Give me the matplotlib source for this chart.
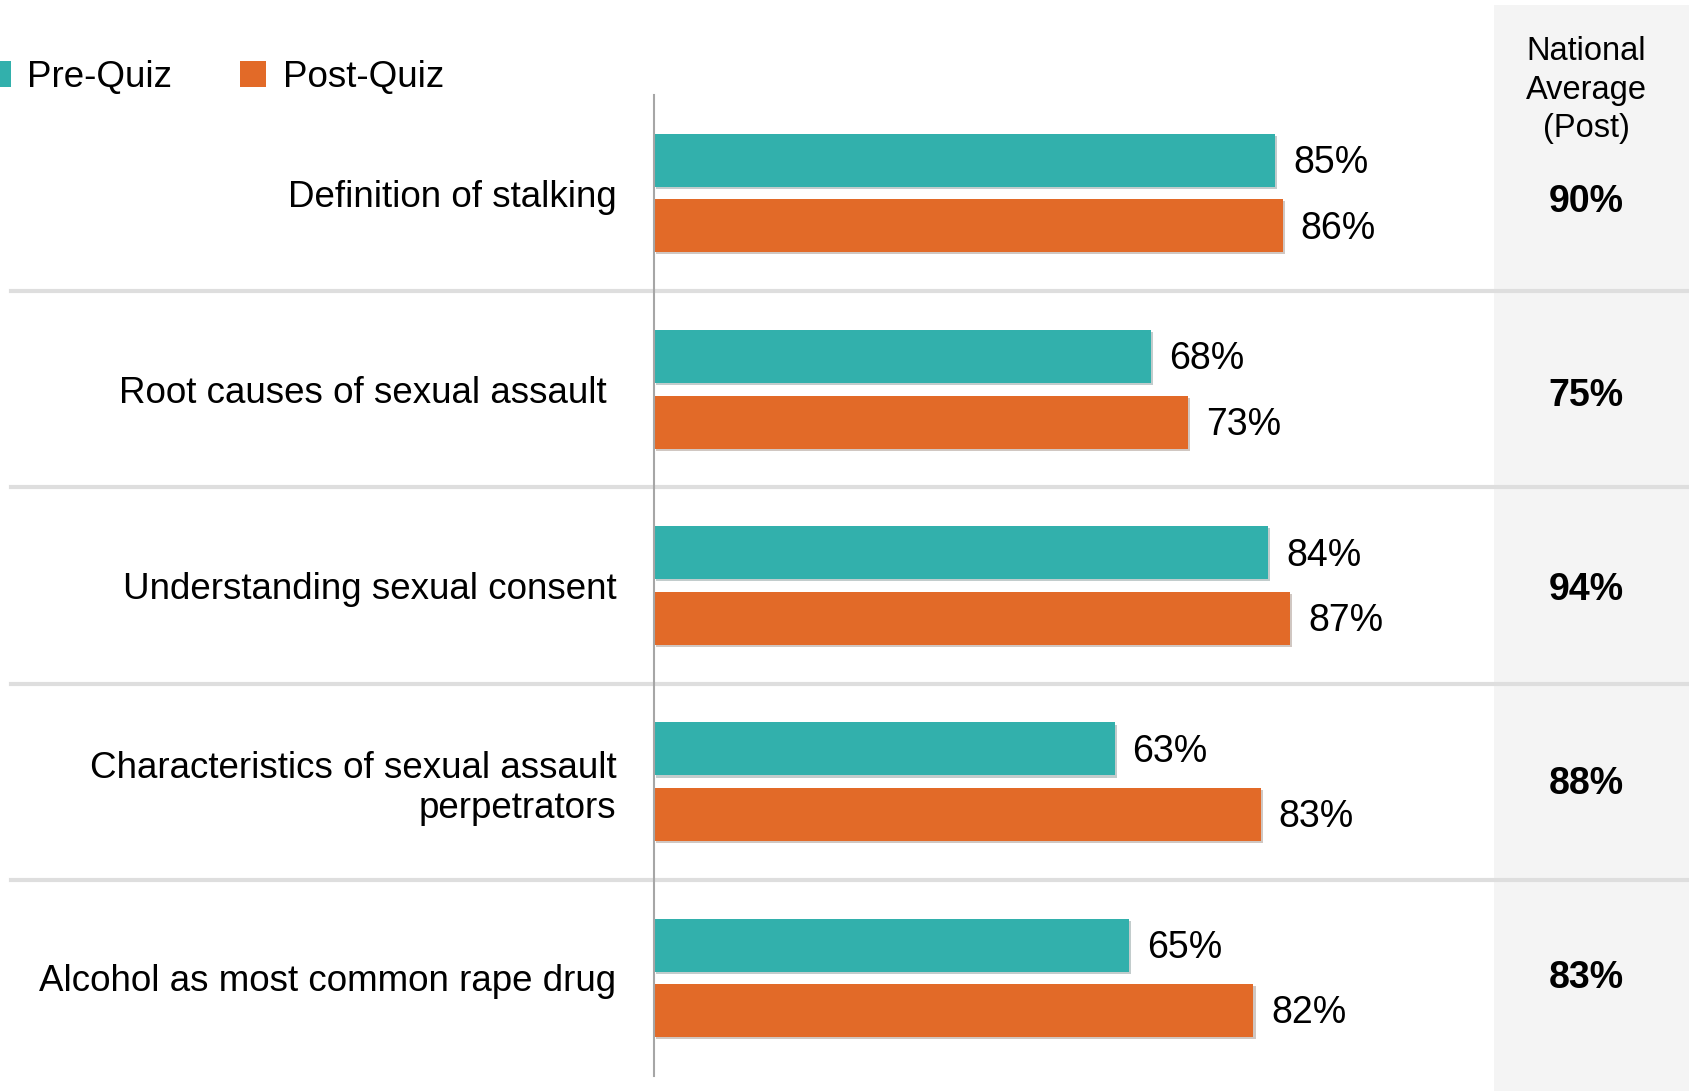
import numpy as np
from matplotlib import pyplot as plt
from matplotlib.patches import Rectangle, Patch
from matplotlib.transforms import blended_transform_factory
import matplotlib.patheffects as pe

plt.rcParams['font.family'] = ['Liberation Sans', 'DejaVu Sans']

# data
categories = ["Definition of stalking",
              "Root causes of sexual assault ",
              "Understanding sexual consent",
              "Characteristics of sexual assault\nperpetrators",
              "Alcohol as most common rape drug"]
pre_quiz = [85, 68, 84, 63, 65]
post_quiz = [86, 73, 87, 83, 82]
national_avg = [90, 75, 94, 88, 83]

teal = '#32b0ac'
orange = '#e26a28'

W, H = 1690, 1091
fig = plt.figure(figsize=(W/100, H/100), dpi=100)

# grey panel on the right for national average
fig.add_artist(Rectangle((1494/W, 0), (W-1494)/W, 1 - 5/H, transform=fig.transFigure,
                         facecolor='#f4f4f4', edgecolor='none', zorder=0))

ax = fig.add_axes([654/W, 1 - 1076/H, 731/W, (1076-95)/H])
ax.set_facecolor('none')
ax.set_xlim(0, 100)
ax.set_ylim(len(categories) - 0.5, -0.5)

y = np.arange(len(categories))
bh = 0.27
off = 0.167
shadow = [pe.SimplePatchShadow(offset=(1.5, -1.5), alpha=0.25), pe.Normal()]
b1 = ax.barh(y - off, pre_quiz, height=bh, color=teal, zorder=3)
b2 = ax.barh(y + off, post_quiz, height=bh, color=orange, zorder=3)
for b in list(b1) + list(b2):
    b.set_path_effects(shadow)

for i in range(len(categories)):
    ax.annotate(f"{pre_quiz[i]}%", (pre_quiz[i], y[i] - off), xytext=(13, -2),
                textcoords='offset points', va='center', ha='left', fontsize=27)
    ax.annotate(f"{post_quiz[i]}%", (post_quiz[i], y[i] + off), xytext=(13, -2),
                textcoords='offset points', va='center', ha='left', fontsize=27)

# axes styling
for s in ['top', 'right', 'bottom']:
    ax.spines[s].set_visible(False)
ax.spines['left'].set_color('#a6a6a6')
ax.spines['left'].set_linewidth(1.5)
ax.spines['left'].set_zorder(4)
ax.set_xticks([])
ax.set_yticks(y)
ax.set_yticklabels(categories, fontsize=26.5, linespacing=1.2)
ax.tick_params(axis='y', length=0, pad=27)

# separators across the whole width
trans = blended_transform_factory(fig.transFigure, ax.transData)
for k in range(len(categories) - 1):
    ax.plot([11/W, 1687/W], [k + 0.5, k + 0.5], transform=trans, color='#dedede',
            linewidth=3, clip_on=False, zorder=1)

# national average column
fig.text(1586/W, 1 - 90/H, "National\nAverage\n(Post)", ha='center', va='center',
         fontsize=23.5, linespacing=1.32)
nat_y = [202, 396, 590, 784, 978]  # label positions, px from top
for i, v in enumerate(national_avg):
    fig.text(1586/W, 1 - nat_y[i]/H, f"{v}%", ha='center', va='center',
             fontsize=27, fontweight='bold')

# legend
handles = [Patch(facecolor=teal, label='Pre-Quiz'), Patch(facecolor=orange, label='Post-Quiz')]
fig.legend(handles=handles, loc='center left', bbox_to_anchor=(-15/W, 1 - 77/H),
           ncol=2, frameon=False, fontsize=26.5, handlelength=0.7, handleheight=0.7,
           handletextpad=0.45, columnspacing=1.85, borderpad=0, borderaxespad=0)

fig.savefig('out.png', dpi=100)
